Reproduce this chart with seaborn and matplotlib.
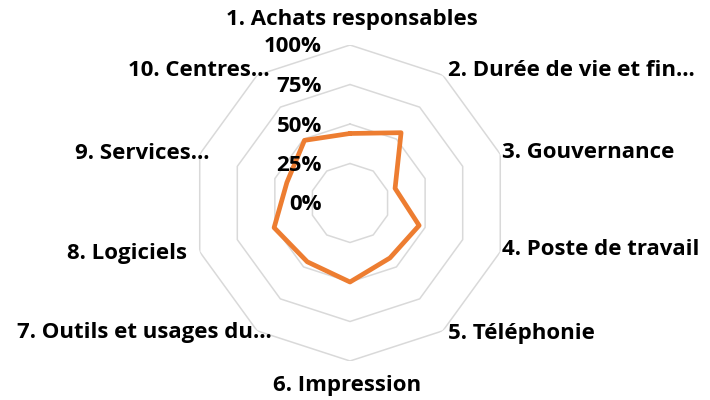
import numpy as np
import matplotlib
matplotlib.use("Agg")
import matplotlib.pyplot as plt
import seaborn as sns

categories = ["1. Achats responsables", "2. Durée de vie et fin…", "3. Gouvernance",
              "4. Poste de travail", "5. Téléphonie", "6. Impression",
              "7. Outils et usages du…", "8. Logiciels", "9. Services…", "10. Centres…"]
values = [44, 55, 30, 46, 43, 50, 46, 50.5, 42, 49]
ring_values = [25, 50, 75, 100]
tick_values = [0, 25, 50, 75, 100]
tick_labels = ["0%", "25%", "50%", "75%", "100%"]

sns.set_theme(style="white")
plt.rcParams["font.family"] = ["Open Sans", "DejaVu Sans"]

FS = 16
fig = plt.figure(figsize=(7.1, 4.0), dpi=100)
ax = fig.add_axes([0.2704, 0.0975, 0.4451, 0.79], projection="polar")
ax.set_theta_zero_location("N")
ax.set_theta_direction(-1)

n = len(categories)
theta = np.linspace(0, 2 * np.pi, n, endpoint=False)
theta_c = np.append(theta, 2 * np.pi)

for r in ring_values:
    ax.plot(theta_c, [r] * (n + 1), color="#D9D9D9", lw=1.1, zorder=1)

vals_c = values + [values[0]]
sns.lineplot(x=theta_c, y=vals_c, sort=False, ax=ax, color="#ED7D31", lw=3.4,
             zorder=3, estimator=None)
for l in ax.lines[-1:]:
    l.set_solid_joinstyle("round")
    l.set_solid_capstyle("round")

ax.set_ylim(0, 100)
ax.grid(False)
ax.spines["polar"].set_visible(False)
ax.set_xticks([])
ax.set_yticks([])
ax.set_xlabel("")
ax.set_ylabel("")
ax.patch.set_alpha(0)

px = 0.72
for v, lab in zip(tick_values, tick_labels):
    ax.annotate(lab, xy=(0, v), xytext=(-28 * px, -2 * px), textcoords="offset points",
                ha="right", va="center", fontsize=FS, fontweight="bold", color="#000000",
                annotation_clip=False, zorder=4)

offsets = [(2, 25), (5, 5), (2, 2), (2, 2), (5, -3), (-3, -24), (15, -2), (-13, -2), (10, 1), (13, 5)]
aligns = ["center", "left", "left", "left", "left", "center", "right", "right", "right", "right"]
for t, lab, (dx, dy), ha in zip(theta, categories, offsets, aligns):
    ax.annotate(lab, xy=(t, 100), xytext=(dx * px, dy * px), textcoords="offset points",
                ha=ha, va="center", fontsize=FS, fontweight="bold", color="#000000",
                annotation_clip=False, zorder=4)

fig.savefig("out.png", dpi=100)
